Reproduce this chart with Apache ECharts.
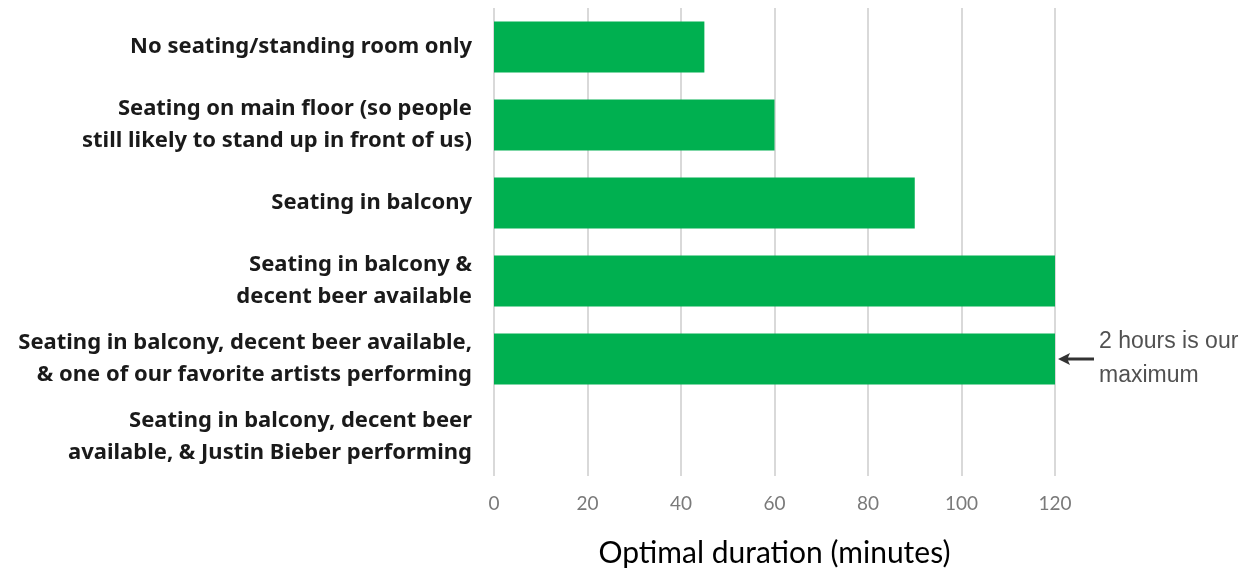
<!DOCTYPE html>
<html><head><meta charset="utf-8">
<script src="https://cdn.jsdelivr.net/npm/echarts@6/dist/echarts.min.js"></script>
<style>html,body{margin:0;padding:0;background:#fff}#c{width:1257px;height:569px}</style>
</head><body><div id="c"></div>
<script>
const categories = [
  "No seating/standing room only",
  "Seating on main floor (so people\nstill likely to stand up in front of us)",
  "Seating in balcony",
  "Seating in balcony &\ndecent beer available",
  "Seating in balcony, decent beer available,\n& one of our favorite artists performing",
  "Seating in balcony, decent beer\navailable, & Justin Bieber performing"
];
const durations = [45, 60, 90, 120, 120, 0];
const xTicks = [0, 20, 40, 60, 80, 100, 120];
const axisTitle = "Optimal duration (minutes)";
const noteCategory = categories[4];
const noteValue = 120;
const noteText = "2 hours is our\nmaximum";

const chart = echarts.init(document.getElementById('c'));
chart.setOption({
  animation: false,
  grid: {left: 494, right: 202, top: 8, bottom: 93, containLabel: false, outerBoundsMode: 'none'},
  xAxis: {
    type: 'value', min: xTicks[0], max: xTicks[xTicks.length-1], interval: 20,
    axisLine: {show: false}, axisTick: {show: false},
    splitLine: {show: true, lineStyle: {color: '#d9d9d9', width: 2}},
    axisLabel: {color: '#7a7a7a', fontFamily: 'Lato', fontSize: 19, margin: 18},
    name: axisTitle, nameLocation: 'middle', nameGap: 62,
    nameTextStyle: {color: '#000', fontFamily: 'Lato', fontSize: 30}
  },
  yAxis: {
    type: 'category', data: categories, inverse: true,
    axisLine: {show: false}, axisTick: {show: false}, splitLine: {show: false},
    axisLabel: {color: '#1a1a1a', fontFamily: 'Noto Sans', fontWeight: 'bold', fontSize: 22,
      lineHeight: 32, margin: 22, align: 'right'}
  },
  series: [
    {
      type: 'bar', data: durations, barWidth: 51,
      itemStyle: {color: '#00b050'}
    },
    {
      type: 'scatter', clip: false, z: 5,
      data: [[noteValue, noteCategory]],
      symbol: 'path://M0 6 L12 0 L10 4.5 L36 4.5 L36 7.5 L10 7.5 L12 12 Z',
      symbolSize: [36, 12], symbolOffset: [21, 0],
      itemStyle: {color: '#000'},
      label: {show: true, position: 'right', distance: 5, formatter: noteText,
        color: '#262626', fontFamily: 'Liberation Sans', fontSize: 23, lineHeight: 34, align: 'left'}
    }
  ]
});
</script></body></html>
